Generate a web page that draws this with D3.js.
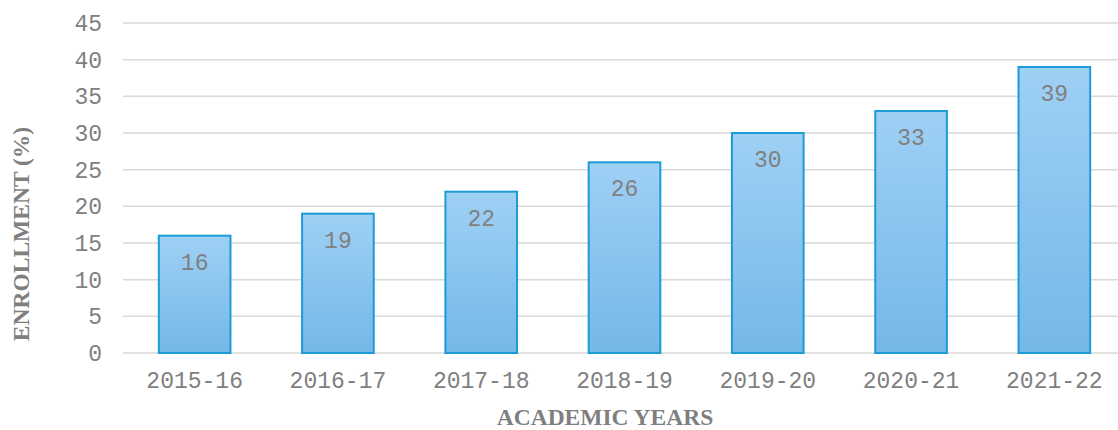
<!DOCTYPE html>
<html>
<head>
<meta charset="utf-8">
<script src="https://cdn.jsdelivr.net/npm/d3@7"></script>
<style>
  html, body { margin: 0; padding: 0; background: #fff; }
</style>
</head>
<body>
<div id="chart"></div>
<script>
const years = ['2015-16', '2016-17', '2017-18', '2018-19', '2019-20', '2020-21', '2021-22'];
const enrollment = [16, 19, 22, 26, 30, 33, 39];
const yTicks = [0, 5, 10, 15, 20, 25, 30, 35, 40, 45];

const W = 1118, H = 430;
const margin = { top: 23, right: 0, bottom: 77, left: 123 };
const innerW = W - margin.left - margin.right;
const innerH = H - margin.top - margin.bottom;
const monoFont = '"Liberation Mono", "Courier New", monospace';
const serifFont = '"Liberation Serif", "Times New Roman", serif';

const svg = d3.select('#chart').append('svg')
    .attr('width', W)
    .attr('height', H);

const defs = svg.append('defs');
const grad = defs.append('linearGradient')
    .attr('id', 'barGrad')
    .attr('x1', 0).attr('y1', 0).attr('x2', 0).attr('y2', 1);
grad.append('stop').attr('offset', '0%').attr('stop-color', '#9fd0f4');
grad.append('stop').attr('offset', '100%').attr('stop-color', '#74b8e8');

const g = svg.append('g')
    .attr('transform', 'translate(' + margin.left + ',' + margin.top + ')');

// category band is a bit wider than the visible plot, last bar sits close to the edge
const x = d3.scaleBand()
    .domain(years)
    .range([0, 1003])
    .paddingInner(0.5)
    .paddingOuter(0.25);

const y = d3.scaleLinear()
    .domain([0, 45])
    .range([innerH, 0]);

// gridlines
g.append('g')
    .selectAll('line')
    .data(yTicks)
    .enter().append('line')
    .attr('x1', 0)
    .attr('x2', innerW)
    .attr('y1', d => y(d))
    .attr('y2', d => y(d))
    .attr('stroke', '#d9d9d9')
    .attr('stroke-width', 1.5);

// y axis labels
const yAxis = g.append('g')
    .call(d3.axisLeft(y).tickValues(yTicks).tickSize(0).tickPadding(21));
yAxis.select('.domain').remove();
yAxis.selectAll('text')
    .style('font-family', monoFont)
    .style('font-size', '23px')
    .attr('fill', '#808080');

// x axis labels
const xAxis = g.append('g')
    .attr('transform', 'translate(0,' + innerH + ')')
    .call(d3.axisBottom(x).tickSize(0).tickPadding(19));
xAxis.select('.domain').remove();
xAxis.selectAll('text')
    .style('font-family', monoFont)
    .style('font-size', '23px')
    .attr('fill', '#808080');

// bars
g.selectAll('rect.bar')
    .data(enrollment)
    .enter().append('rect')
    .attr('class', 'bar')
    .attr('x', (d, i) => x(years[i]))
    .attr('y', d => y(d))
    .attr('width', x.bandwidth())
    .attr('height', d => innerH - y(d))
    .attr('fill', 'url(#barGrad)')
    .attr('stroke', '#1b9bd7')
    .attr('stroke-width', 2);

// value labels
g.selectAll('text.val')
    .data(enrollment)
    .enter().append('text')
    .attr('class', 'val')
    .attr('x', (d, i) => x(years[i]) + x.bandwidth() / 2)
    .attr('y', d => y(d) + 34)
    .attr('text-anchor', 'middle')
    .style('font-family', monoFont)
    .style('font-size', '23px')
    .attr('fill', '#808080')
    .text(d => d);

// axis titles
svg.append('text')
    .attr('transform', 'translate(29,234) rotate(-90)')
    .attr('text-anchor', 'middle')
    .style('font-family', serifFont)
    .style('font-weight', 'bold')
    .style('font-size', '23.5px')
    .attr('fill', '#7f7f7f')
    .text('ENROLLMENT (%)');

svg.append('text')
    .attr('x', 605)
    .attr('y', 425)
    .attr('text-anchor', 'middle')
    .style('font-family', serifFont)
    .style('font-weight', 'bold')
    .style('font-size', '23.5px')
    .attr('fill', '#7f7f7f')
    .text('ACADEMIC YEARS');
</script>
</body>
</html>
